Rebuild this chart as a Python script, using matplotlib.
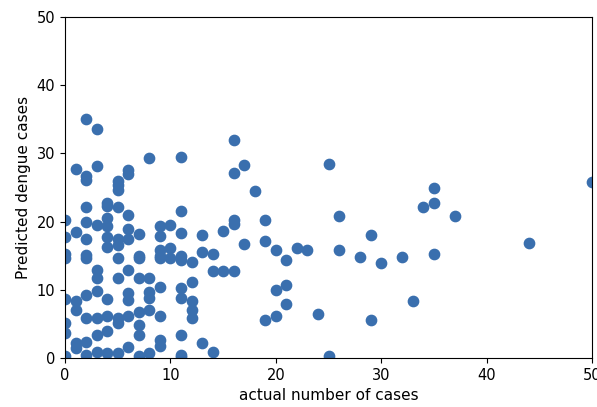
import numpy as np
import matplotlib.pyplot as plt

# actual cases (x) and predicted cases (y)
cols = {
    0: [20.2, 17.7, 15.3, 14.7, 8.7, 5.1, 3.7, 0.3],
    1: [27.7, 18.5, 8.3, 7.0, 2.2, 1.5],
    2: [35.0, 26.7, 26.1, 22.1, 20.0, 17.4, 15.1, 14.7, 9.2, 5.8, 2.3, 0.4],
    3: [33.6, 28.2, 19.5, 12.9, 11.8, 9.8, 5.9, 3.4, 0.9],
    4: [22.8, 22.3, 20.6, 19.4, 17.7, 16.3, 8.6, 6.1, 3.9, 0.8],
    5: [26.0, 25.3, 24.6, 22.1, 17.4, 16.5, 14.6, 11.7, 5.9, 5.1, 0.7],
    6: [27.5, 27.0, 21.0, 18.9, 17.4, 12.9, 9.5, 8.5, 6.1, 1.6],
    7: [18.2, 15.0, 14.6, 11.7, 6.8, 4.8, 3.4, 0.3],
    8: [29.3, 11.7, 9.7, 8.8, 7.0, 0.7],
    9: [19.3, 17.9, 15.8, 15.0, 14.6, 10.4, 6.1, 2.6, 1.7],
    10: [19.5, 16.2, 14.7],
    11: [29.5, 21.5, 18.3, 15.0, 14.4, 10.2, 8.8, 3.4, 0.5, 0.2],
    12: [14.1, 11.1, 8.3, 7.0, 5.8],
    13: [18.0, 15.6, 2.2],
    14: [15.3, 12.7, 0.9],
    15: [18.6, 12.7],
    16: [32.0, 27.2, 20.3, 19.6, 12.7],
    17: [28.3, 16.7],
    18: [24.5],
    19: [20.3, 17.1, 5.6],
    20: [15.8, 10.0, 6.2],
    21: [14.4, 10.7, 7.9],
    22: [16.2],
    23: [15.9],
    24: [6.5],
    25: [28.5, 0.3],
    26: [20.8, 15.9],
    28: [14.8],
    29: [18.1, 5.5],
    30: [14.0],
    32: [14.8],
    33: [8.3],
    34: [22.1],
    35: [24.9, 22.8, 15.2],
    37: [20.8],
    44: [16.8],
    50: [25.8],
}

actual = []
predicted = []
for k, vals in cols.items():
    for v in vals:
        actual.append(k)
        predicted.append(v)
actual = np.array(actual)
predicted = np.array(predicted)

fig = plt.figure(figsize=(5.97, 4.07), dpi=100)
ax = fig.add_axes([0.109, 0.1204, 0.8826, 0.8378])
ax.scatter(actual, predicted, s=55, color='#3a6fae')
ax.set_xlim(0, 50)
ax.set_ylim(0, 50)
ax.tick_params(labelsize=10.5)
ax.set_xlabel("actual number of cases", fontsize=11)
ax.set_ylabel("Predicted dengue cases", fontsize=11)
fig.savefig("out.png")
